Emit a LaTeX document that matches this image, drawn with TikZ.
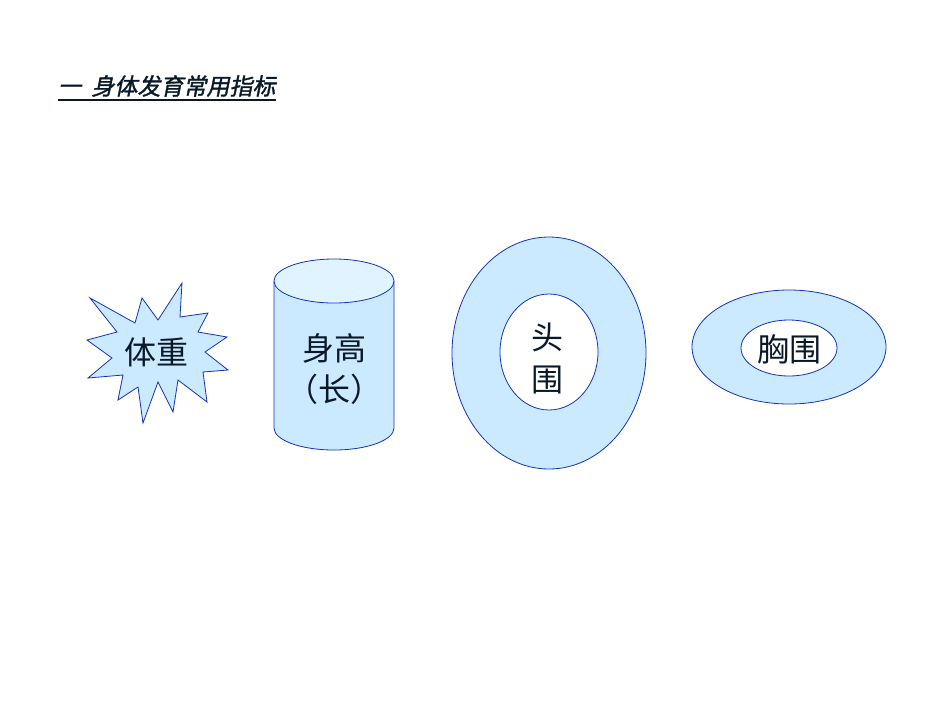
\documentclass[tikz,border=0pt]{standalone}
\usepackage{fontspec}
\newfontfamily\cjk{Noto Sans CJK SC}
\newfontfamily\cjkt[FakeSlant=0.2,FakeBold=1.5]{Noto Sans CJK SC}
\definecolor{fillb}{RGB}{204,234,255}
\definecolor{topb}{RGB}{224,244,255}
\definecolor{lineb}{RGB}{20,50,190}
\definecolor{txt}{RGB}{10,25,40}
\begin{document}
\begin{tikzpicture}[x=1pt,y=-1pt,
  shp/.style={draw=lineb,fill=fillb,line width=0.8pt},
  lbl/.style={font=\cjk\fontsize{32}{38}\selectfont,text=txt,inner sep=0pt}]
\useasboundingbox (0,0) rectangle (950,713);
\node[anchor=west,inner sep=0pt,text=txt,font=\cjkt\fontsize{23}{28}\selectfont] (title) at (58,86)
  {一\ \ 身体发育常用指标};
\draw[txt,line width=1.2pt] (title.south west)++(0,3) -- ([yshift=-3pt]title.south east);
% star
\draw[shp] (90,298)--(135,323)--(142,298)--(158,320)--(182,283)--(180,317)--(208,313)--(198,332)--(227,337)--(205,352)--(228,370)--(203,372)--(207,402)--(178,380)--(173,412)--(158,382)--(143,423)--(138,387)--(118,400)--(123,375)--(88,378)--(112,358)--(87,340)--(117,332)--cycle;
\node[lbl] (w) at (156,352) {体重};
% cylinder
\draw[shp] (274,281) -- (274,428) arc[start angle=180,end angle=0,x radius=60,y radius=22] -- (394,281);
\draw[draw=lineb,fill=topb,line width=0.8pt] (334,281) ellipse[x radius=60,y radius=22];
\node[lbl] (h1) at (334,348) {身高};
\node[lbl] (h2) at (334,389) {（长）};
% head
\draw[shp,even odd rule] (549,353) ellipse[x radius=97,y radius=116] (549,352) ellipse[x radius=49,y radius=58];
\node[lbl] (t1) at (547,337) {头};
\node[lbl] (t2) at (547,380) {围};
% chest
\draw[shp,even odd rule] (789,347) ellipse[x radius=97,y radius=57] (789,348) ellipse[x radius=48,y radius=28];
\node[lbl] (c) at (789,349) {胸围};
\end{tikzpicture}
\end{document}
